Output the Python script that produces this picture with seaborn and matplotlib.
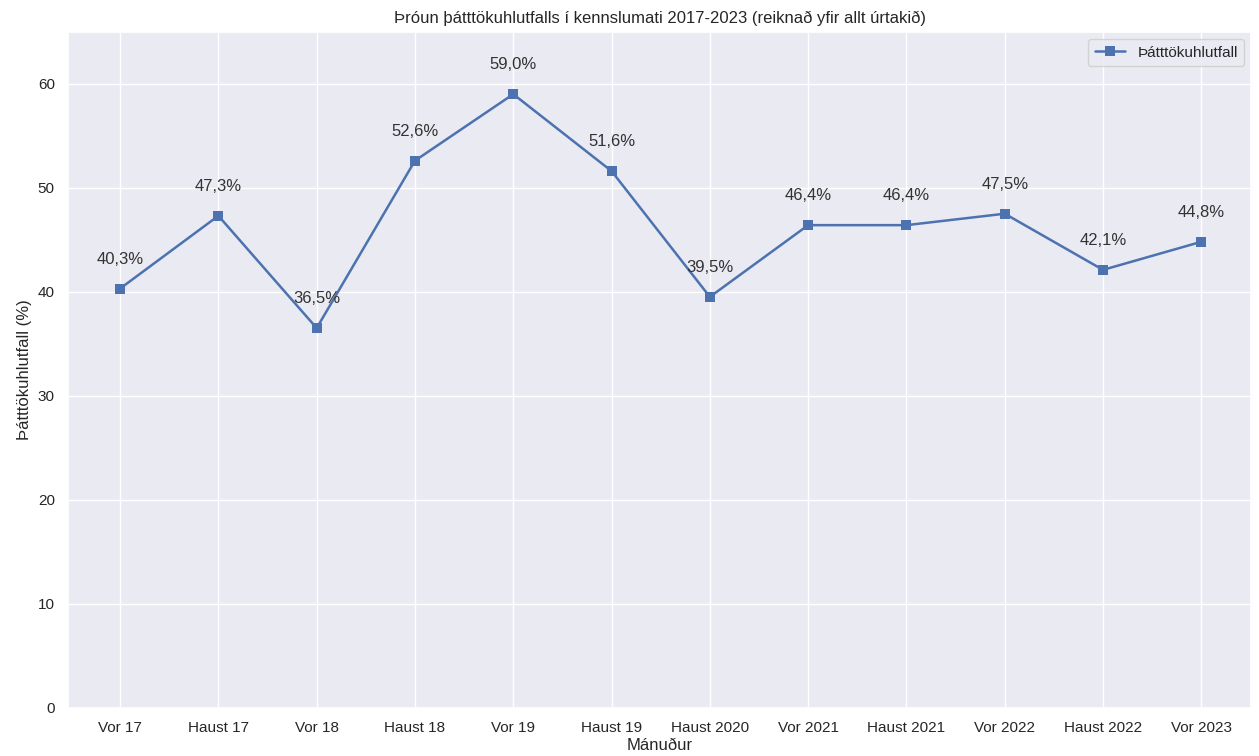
import matplotlib
matplotlib.use("Agg")
import matplotlib.pyplot as plt
import pandas as pd
import seaborn as sns

# Data
terms = ['Vor 17', 'Haust 17', 'Vor 18', 'Haust 18', 'Vor 19', 'Haust 19',
         'Haust 2020', 'Vor 2021', 'Haust 2021', 'Vor 2022', 'Haust 2022', 'Vor 2023']
rates = [40.3, 47.3, 36.5, 52.6, 59.0, 51.6, 39.5, 46.4, 46.4, 47.5, 42.1, 44.8]

df = pd.DataFrame({'term': terms, 'rate': rates})

sns.set_theme(style='darkgrid')
plt.rcParams['font.family'] = ['Liberation Sans', 'DejaVu Sans']

fig, ax = plt.subplots(figsize=(12.59, 7.56), dpi=100)

x = list(range(len(terms)))
sns.lineplot(x=x, y=df['rate'], marker='s', markersize=7.5, markeredgewidth=0,
             color='#4c72b0', linewidth=1.8, label='Þátttökuhlutfall', ax=ax)

# Labels above points
for xi, v in zip(x, df['rate']):
    ax.annotate(f"{v:.1f}%".replace('.', ','), (xi, v), xytext=(0, 21),
                textcoords='offset points', ha='center', va='center', fontsize=12,
                color='#333333')

ax.set_xticks(x)
ax.set_xticklabels(terms, fontsize=11)
ax.tick_params(axis='y', labelsize=11)
ax.set_ylim(0, 65)
ax.set_xlim(-0.53, 11.51)

ax.set_title('Þróun þátttökuhlutfalls í kennslumati 2017-2023 (reiknað yfir allt úrtakið)', fontsize=12)
ax.set_xlabel('Mánuður', fontsize=12, labelpad=2)
ax.set_ylabel('Þátttökuhlutfall (%)', fontsize=12)

ax.legend(loc='upper right', fontsize=11)

plt.subplots_adjust(left=0.054, right=0.994, top=0.958, bottom=0.064)
fig.savefig('out.png')
